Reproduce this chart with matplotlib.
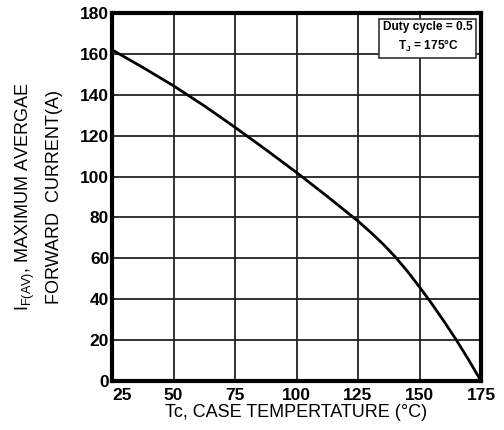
import numpy as np
import matplotlib.pyplot as plt

plt.rcParams['font.family'] = ['Liberation Sans', 'DejaVu Sans']

# curve: case temperature (C) vs max average forward current (A)
tc = [25, 37.5, 50, 62.5, 75, 87.5, 100, 112.5, 125, 130, 135, 140, 145, 150, 155, 160, 165, 170, 175]
i_fav = [162, 153.4, 144.4, 134.6, 124.1, 113.2, 102, 90.3, 78.2, 72.9, 67.2, 60.9, 53.8, 46,
         37.8, 29.1, 20, 10.3, 0]

x_ticks = [25, 50, 75, 100, 125, 150, 175]
y_ticks = [0, 20, 40, 60, 80, 100, 120, 140, 160, 180]

fig = plt.figure(figsize=(5.04, 4.30), dpi=100)
ax = fig.add_axes([112/504, 1 - 381/430, (481-112)/504, (381-13)/430])

ax.plot(tc, i_fav, color='black', lw=2, zorder=3, solid_joinstyle='round')

ax.set_xlim(25, 175)
ax.set_ylim(0, 180)
ax.set_xticks(x_ticks)
ax.set_yticks(y_ticks)
ax.grid(True, color='#222222', lw=1.3)
ax.tick_params(length=0, labelsize=12.5)
ax.tick_params(axis='x', pad=5)
ax.tick_params(axis='y', pad=2)
for lab in ax.get_xticklabels() + ax.get_yticklabels():
  lab.set_fontweight('bold')
# first x label sits just right of the corner, like in the original
ax.get_xticklabels()[0].set_horizontalalignment('left')
for s in ax.spines.values():
  s.set_linewidth(3)
  s.set_zorder(4)

ax.set_xlabel('Tc, CASE TEMPERTATURE (\u00b0C)', fontsize=13, labelpad=1)
ax.set_ylabel('I$_{\\mathregular{F(AV)}}$, MAXIMUM AVERGAE\nFORWARD  CURRENT(A)',
              fontsize=13, labelpad=12, linespacing=1.75)

ax.text(0.856, 0.978, 'Duty cycle = 0.5\nT$_{\\mathregular{J}}$ = 175\u00b0C',
        transform=ax.transAxes, ha='center', va='top', fontsize=8.6,
        fontweight='bold', linespacing=1.4, zorder=5,
        bbox=dict(boxstyle='square,pad=0.3', fc='white', ec='#333333', lw=1.2))

fig.savefig('out.png', dpi=100)
